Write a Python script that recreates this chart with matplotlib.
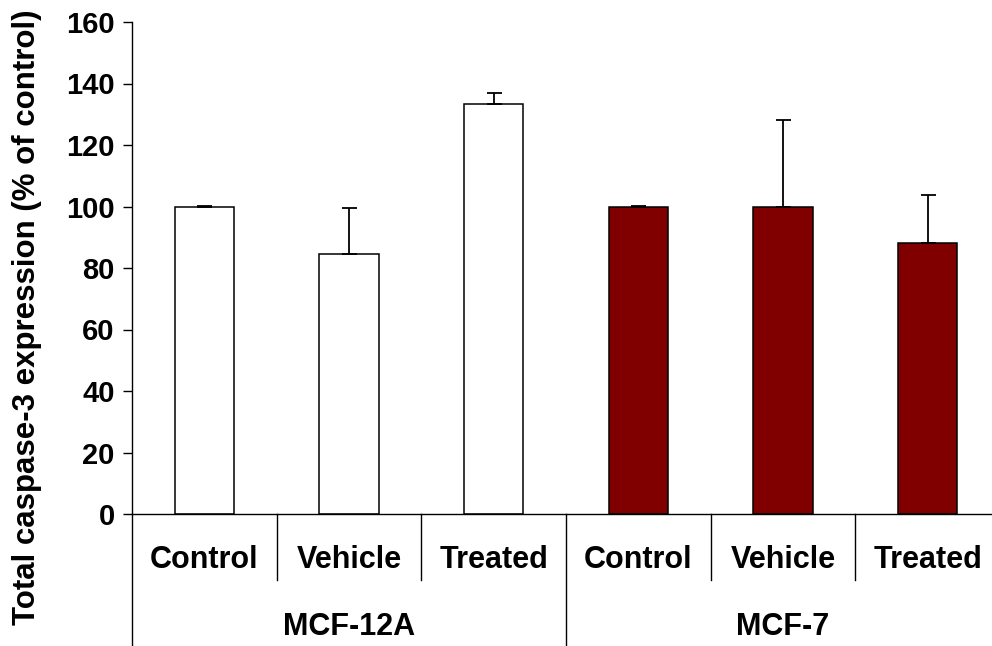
import matplotlib.pyplot as plt
import matplotlib.transforms as mtransforms
import numpy as np

plt.rcParams['font.family'] = ['Liberation Sans', 'DejaVu Sans']
plt.rcParams['font.weight'] = 'bold'

groups = ['MCF-12A', 'MCF-7']
conditions = ['Control', 'Vehicle', 'Treated']
mcf12a_vals = [100, 84.6, 133.3]
mcf12a_err = [0.3, 15.0, 3.5]
mcf7_vals = [100, 100, 88.0]
mcf7_err = [0.3, 28.2, 15.6]
colors = ['white', '#800000']

W, H = 992, 646
fig = plt.figure(figsize=(W / 100, H / 100), dpi=100)
ax = fig.add_axes([132 / W, (H - 514) / H, (1000 - 132) / W, 492 / H])

x = np.arange(6) + 0.5
vals = mcf12a_vals + mcf7_vals
errs = mcf12a_err + mcf7_err
bar_colors = [colors[0]] * 3 + [colors[1]] * 3

ax.bar(x, vals, width=0.41, color=bar_colors, edgecolor='black', linewidth=1.1, zorder=2)
ax.errorbar(x, vals, yerr=[np.zeros(6), errs], fmt='none', ecolor='black',
            elinewidth=1.3, capsize=5.4, capthick=1.3, zorder=3)

ax.set_xlim(0, 6)
ax.set_ylim(0, 160)
ax.set_yticks(np.arange(0, 161, 20))
ax.set_xticks([])
ax.tick_params(axis='y', direction='out', length=6.5, width=1, labelsize=21, pad=6)
for lab in ax.get_yticklabels():
    lab.set_fontweight('bold')
for s in ['top', 'right']:
    ax.spines[s].set_visible(False)
for s in ['left', 'bottom']:
    ax.spines[s].set_linewidth(1)

trans = mtransforms.blended_transform_factory(ax.transData, ax.transAxes)
# separators below the axis
for xs in [1, 2, 4, 5]:
    ax.plot([xs, xs], [0, -0.134], color='black', lw=1, transform=trans, clip_on=False)
for xs in [0, 3, 6]:
    ax.plot([xs, xs], [0, -0.3], color='black', lw=1, transform=trans, clip_on=False)

for i, xc in enumerate(x):
    ax.text(xc, -0.0935, conditions[i % 3], transform=trans, ha='center', va='center',
            fontsize=22, fontweight='bold')
for g, xc in zip(groups, [1.5, 4.5]):
    ax.text(xc, -0.23, g, transform=trans, ha='center', va='center',
            fontsize=22, fontweight='bold')

fig.text(27 / W, (H - 317) / H, 'Total caspase-3 expression (% of control)', rotation=90,
         ha='center', va='center', fontsize=22.5, fontweight='bold')

fig.savefig('out.png', dpi=100)
